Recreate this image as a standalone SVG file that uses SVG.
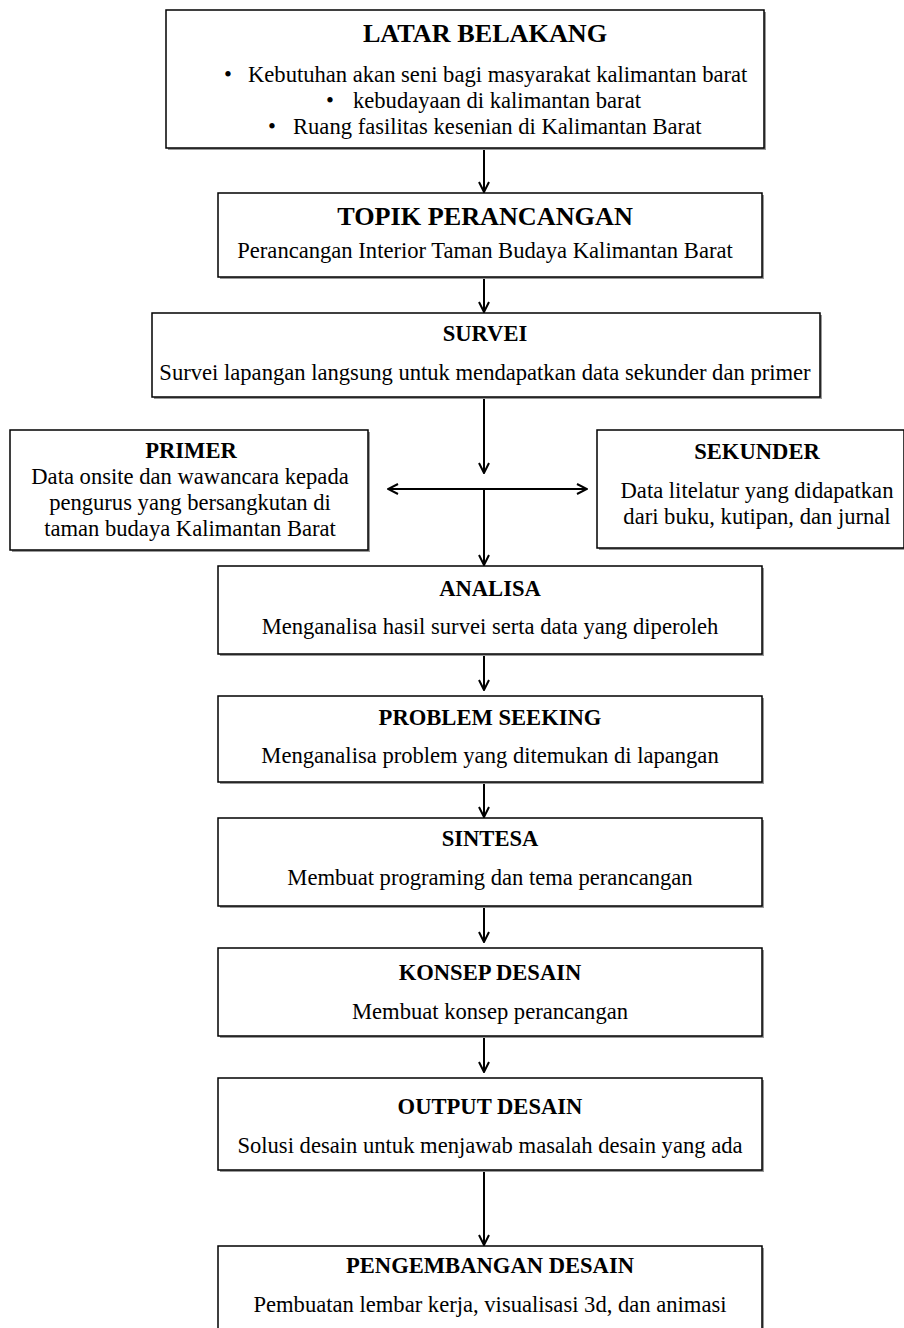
<svg xmlns="http://www.w3.org/2000/svg" width="904" height="1328" viewBox="0 0 904 1328">
<style>
.box{fill:#fff;stroke:#000;stroke-width:1.5}
.sh{fill:#999}
.t{font-weight:bold;font-size:22.6px;text-anchor:middle;fill:#000}
.tl{font-weight:bold;font-size:26.2px;text-anchor:middle;fill:#000}
.b{font-size:22.6px;text-anchor:middle;fill:#000}
.bs{font-size:22.6px;fill:#000}
.c{stroke:#000;stroke-width:2;fill:none}
</style>
<defs>
<marker id="ah" viewBox="0 0 12 12" refX="11" refY="6" markerWidth="12" markerHeight="12" markerUnits="userSpaceOnUse" orient="auto-start-reverse">
<path d="M1,1 L11,6 L1,11" fill="none" stroke="#000" stroke-width="2"/>
</marker>
</defs>
<rect width="904" height="1328" fill="#fff"/>
<g id="connectors">
<line class="c" x1="484" y1="148" x2="484" y2="192" marker-end="url(#ah)"/>
<line class="c" x1="484" y1="277" x2="484" y2="312" marker-end="url(#ah)"/>
<line class="c" x1="484" y1="397" x2="484" y2="473" marker-end="url(#ah)"/>
<line class="c" x1="388" y1="489" x2="587" y2="489" marker-start="url(#ah)" marker-end="url(#ah)"/>
<line class="c" x1="484" y1="489" x2="484" y2="565" marker-end="url(#ah)"/>
<line class="c" x1="484" y1="654" x2="484" y2="690" marker-end="url(#ah)"/>
<line class="c" x1="484" y1="782" x2="484" y2="817" marker-end="url(#ah)"/>
<line class="c" x1="484" y1="906" x2="484" y2="942" marker-end="url(#ah)"/>
<line class="c" x1="484" y1="1036" x2="484" y2="1072" marker-end="url(#ah)"/>
<line class="c" x1="484" y1="1170" x2="484" y2="1245" marker-end="url(#ah)"/>
</g>
<g font-family="Liberation Serif, Times New Roman, serif">
<g id="latar">
<rect class="sh" x="168" y="12" width="598" height="138"/>
<rect class="box" x="166" y="10" width="598" height="138"/>
<text class="tl" x="485" y="42">LATAR BELAKANG</text>
<text class="bs" x="224" y="82">•</text>
<text class="bs" x="248" y="82">Kebutuhan akan seni bagi masyarakat kalimantan barat</text>
<text class="bs" x="326" y="108">•</text>
<text class="bs" x="353" y="108">kebudayaan di kalimantan barat</text>
<text class="bs" x="268" y="134">•</text>
<text class="bs" x="293" y="134">Ruang fasilitas kesenian di Kalimantan Barat</text>
</g>
<g id="topik">
<rect class="sh" x="220" y="195" width="544" height="84"/>
<rect class="box" x="218" y="193" width="544" height="84"/>
<text class="tl" x="485" y="225">TOPIK PERANCANGAN</text>
<text class="b" x="485" y="258">Perancangan Interior Taman Budaya Kalimantan Barat</text>
</g>
<g id="survei">
<rect class="sh" x="154" y="315" width="668" height="84"/>
<rect class="box" x="152" y="313" width="668" height="84"/>
<text class="t" x="485" y="341">SURVEI</text>
<text class="b" x="485" y="380">Survei lapangan langsung untuk mendapatkan data sekunder dan primer</text>
</g>
<g id="primer">
<rect class="sh" x="12" y="432" width="358" height="120"/>
<rect class="box" x="10" y="430" width="358" height="120"/>
<text class="t" x="191" y="458">PRIMER</text>
<text class="b" x="190" y="484">Data onsite dan wawancara kepada</text>
<text class="b" x="190" y="510">pengurus yang bersangkutan di</text>
<text class="b" x="190" y="536">taman budaya Kalimantan Barat</text>
</g>
<g id="sekunder">
<rect class="sh" x="599" y="432" width="307" height="118"/>
<rect class="box" x="597" y="430" width="307" height="118"/>
<text class="t" x="757" y="459">SEKUNDER</text>
<text class="b" x="757" y="498">Data litelatur yang didapatkan</text>
<text class="b" x="757" y="524">dari buku, kutipan, dan jurnal</text>
</g>
<g id="analisa">
<rect class="sh" x="220" y="568" width="544" height="88"/>
<rect class="box" x="218" y="566" width="544" height="88"/>
<text class="t" x="490" y="596">ANALISA</text>
<text class="b" x="490" y="634">Menganalisa hasil survei serta data yang diperoleh</text>
</g>
<g id="problem">
<rect class="sh" x="220" y="698" width="544" height="86"/>
<rect class="box" x="218" y="696" width="544" height="86"/>
<text class="t" x="490" y="725">PROBLEM SEEKING</text>
<text class="b" x="490" y="763">Menganalisa problem yang ditemukan di lapangan</text>
</g>
<g id="sintesa">
<rect class="sh" x="220" y="820" width="544" height="88"/>
<rect class="box" x="218" y="818" width="544" height="88"/>
<text class="t" x="490" y="846">SINTESA</text>
<text class="b" x="490" y="885">Membuat programing dan tema perancangan</text>
</g>
<g id="konsep">
<rect class="sh" x="220" y="950" width="544" height="88"/>
<rect class="box" x="218" y="948" width="544" height="88"/>
<text class="t" x="490" y="980">KONSEP DESAIN</text>
<text class="b" x="490" y="1019">Membuat konsep perancangan</text>
</g>
<g id="output">
<rect class="sh" x="220" y="1080" width="544" height="92"/>
<rect class="box" x="218" y="1078" width="544" height="92"/>
<text class="t" x="490" y="1114">OUTPUT DESAIN</text>
<text class="b" x="490" y="1153">Solusi desain untuk menjawab masalah desain yang ada</text>
</g>
<g id="pengembangan">
<rect class="sh" x="220" y="1248" width="544" height="90"/>
<rect class="box" x="218" y="1246" width="544" height="90"/>
<text class="t" x="490" y="1273">PENGEMBANGAN DESAIN</text>
<text class="b" x="490" y="1312">Pembuatan lembar kerja, visualisasi 3d, dan animasi</text>
</g>
</g>
</svg>
